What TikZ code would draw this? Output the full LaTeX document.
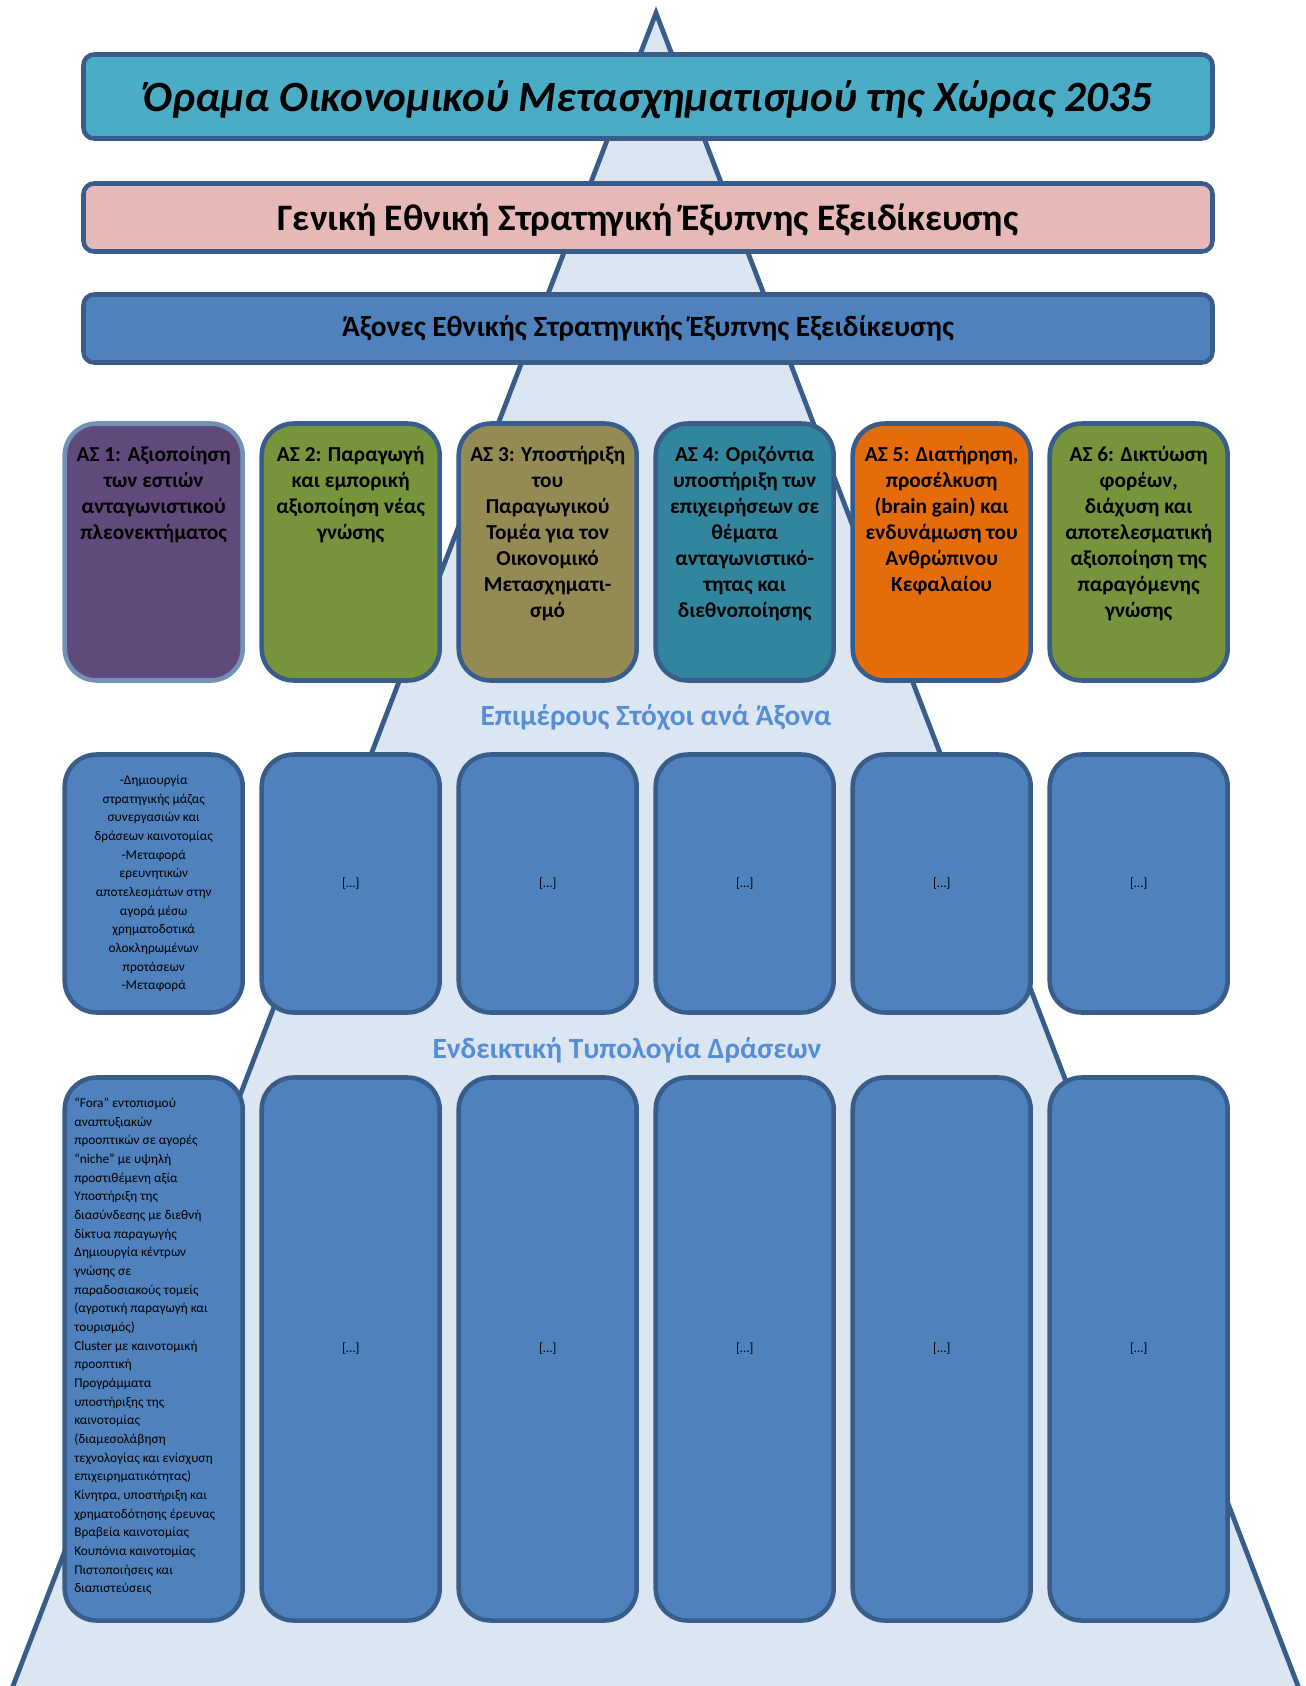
\documentclass[tikz,border=0pt]{standalone}
\usepackage{fontspec}
\setmainfont{Carlito}
\usepackage{tikz}
\usetikzlibrary{positioning}
\definecolor{trifill}{HTML}{DCE6F2}
\definecolor{edge}{HTML}{385D8A}
\definecolor{visionfill}{HTML}{4BACC6}
\definecolor{pinkfill}{HTML}{E6B9B8}
\definecolor{bluefill}{HTML}{4F81BD}
\definecolor{purplefill}{HTML}{604A7B}
\definecolor{purpleedge}{HTML}{7492B8}
\definecolor{greenfill}{HTML}{77933C}
\definecolor{khakifill}{HTML}{948A54}
\definecolor{tealfill}{HTML}{31859C}
\definecolor{orangefill}{HTML}{E46C0A}
\definecolor{labelblue}{HTML}{558ED5}
\newcommand*{\axistext}{\bfseries\fontsize{16}{19.5}\selectfont}
\newcommand*{\smalltext}{\fontsize{10}{14}\selectfont}

\begin{document}
\begin{tikzpicture}[x=0.75pt, y=-0.75pt,
  bar/.style={draw=edge, line width=3.4pt, rounded corners=8pt, minimum width=846.75pt},
  axisbox/.style={draw=edge, line width=3.4pt, rounded corners=24pt, minimum width=133.5pt, minimum height=192.75pt, inner sep=0pt},
  goalbox/.style={axisbox, fill=bluefill, minimum height=193.5pt},
  actionbox/.style={axisbox, fill=bluefill, minimum height=407.25pt},
  axistitle/.style={anchor=north, align=center, inner sep=0pt, font=\axistext},
  rowlabel/.style={text=labelblue, font=\bfseries\fontsize{22}{26}\selectfont},
  dots/.style={font=\smalltext}]
\useasboundingbox (0,0) rectangle (1306,1686);
% pyramid behind everything
\begin{scope}
  \clip (0,0) rectangle (1306,1686);
  \draw[fill=trifill, draw=edge, line width=3.6pt, line join=miter] (656,13) -- (7.6,1700) -- (1303.4,1700) -- cycle;
\end{scope}

% top bars
\node[bar, fill=visionfill, minimum height=63pt, text depth=0pt] (vision) at (648,96.5)
  {\bfseries\itshape\fontsize{32.4}{38}\selectfont Όραμα Οικονομικού Μετασχηματισμού της Χώρας 2035};
\node[bar, fill=pinkfill, minimum height=51pt, text depth=0pt] (general) at (648,217.5)
  {\bfseries\fontsize{28}{33}\selectfont Γενική Εθνική Στρατηγική Έξυπνης Εξειδίκευσης};
\node[bar, fill=bluefill, minimum height=51pt] (axes) at (648,328.5)
  {\bfseries\fontsize{22}{26}\selectfont Άξονες Εθνικής Στρατηγικής Έξυπνης Εξειδίκευσης};

% axes
\node[axisbox, fill=purplefill, draw=purpleedge] (as1) at (153.7,552) {};
\node[axisbox, fill=greenfill] (as2) at (350.7,552) {};
\node[axisbox, fill=khakifill] (as3) at (547.7,552) {};
\node[axisbox, fill=tealfill] (as4) at (744.7,552) {};
\node[axisbox, fill=orangefill] (as5) at (941.7,552) {};
\node[axisbox, fill=greenfill] (as6) at (1138.7,552) {};
\node[axistitle] (as1t) at (153.7,446) {ΑΣ 1: Αξιοποίηση\\των εστιών\\ανταγωνιστικού\\πλεονεκτήματος};
\node[axistitle] (as2t) at (350.7,446) {ΑΣ 2: Παραγωγή\\και εμπορική\\αξιοποίηση νέας\\γνώσης};
\node[axistitle] (as3t) at (547.7,446) {ΑΣ 3: Υποστήριξη\\του\\Παραγωγικού\\Τομέα για τον\\Οικονομικό\\Μετασχηματι-\\σμό};
\node[axistitle] (as4t) at (744.7,446) {ΑΣ 4: Οριζόντια\\υποστήριξη των\\επιχειρήσεων σε\\θέματα\\ανταγωνιστικό-\\τητας και\\διεθνοποίησης};
\node[axistitle] (as5t) at (941.7,446) {ΑΣ 5: Διατήρηση,\\προσέλκυση\\(brain gain) και\\ενδυνάμωση του\\Ανθρώπινου\\Κεφαλαίου};
\node[axistitle] (as6t) at (1138.7,446) {ΑΣ 6: Δικτύωση\\φορέων,\\διάχυση και\\αποτελεσματική\\αξιοποίηση της\\παραγόμενης\\γνώσης};

% goals per axis
\node[rowlabel] (goals) at (656,717) {Επιμέρους Στόχοι ανά Άξονα};
\node[goalbox] (g1) at (153.7,883.5) {};
\node[goalbox] (g2) at (350.7,883.5) {};
\node[goalbox] (g3) at (547.7,883.5) {};
\node[goalbox] (g4) at (744.7,883.5) {};
\node[goalbox] (g5) at (941.7,883.5) {};
\node[goalbox] (g6) at (1138.7,883.5) {};
\node[align=center, inner sep=0pt, font=\smalltext] (g1t) at (g1.center)
  {-Δημιουργία\\στρατηγικής μάζας\\συνεργασιών και\\δράσεων καινοτομίας\\-Μεταφορά\\ερευνητικών\\αποτελεσμάτων στην\\αγορά μέσω\\χρηματοδοτικά\\ολοκληρωμένων\\προτάσεων\\-Μεταφορά};
\node[dots] (g2t) at (g2.center) {[…]};
\node[dots] (g3t) at (g3.center) {[…]};
\node[dots] (g4t) at (g4.center) {[…]};
\node[dots] (g5t) at (g5.center) {[…]};
\node[dots] (g6t) at (g6.center) {[…]};

% indicative actions
\node[rowlabel] (actions) at (627,1050) {Ενδεικτική Τυπολογία Δράσεων};
\node[actionbox] (a1) at (153.7,1349) {};
\node[actionbox] (a2) at (350.7,1349) {};
\node[actionbox] (a3) at (547.7,1349) {};
\node[actionbox] (a4) at (744.7,1349) {};
\node[actionbox] (a5) at (941.7,1349) {};
\node[actionbox] (a6) at (1138.7,1349) {};
\node[anchor=north west, align=left, inner sep=0pt, font=\smalltext] (a1t) at (74,1097.5)
  {“Fora” εντοπισμού\\αναπτυξιακών\\προοπτικών σε αγορές\\“niche” με υψηλή\\προστιθέμενη αξία\\Υποστήριξη της\\διασύνδεσης με διεθνή\\δίκτυα παραγωγής\\Δημιουργία κέντρων\\γνώσης σε\\παραδοσιακούς τομείς\\(αγροτική παραγωγή και\\τουρισμός)\\Cluster με καινοτομική\\προοπτική\\Προγράμματα\\υποστήριξης της\\καινοτομίας\\(διαμεσολάβηση\\τεχνολογίας και ενίσχυση\\επιχειρηματικότητας)\\Κίνητρα, υποστήριξη και\\χρηματοδότησης έρευνας\\Βραβεία καινοτομίας\\Κουπόνια καινοτομίας\\Πιστοποιήσεις και\\διαπιστεύσεις};
\node[dots] (a2t) at (a2.center) {[…]};
\node[dots] (a3t) at (a3.center) {[…]};
\node[dots] (a4t) at (a4.center) {[…]};
\node[dots] (a5t) at (a5.center) {[…]};
\node[dots] (a6t) at (a6.center) {[…]};
\end{tikzpicture}
\end{document}
